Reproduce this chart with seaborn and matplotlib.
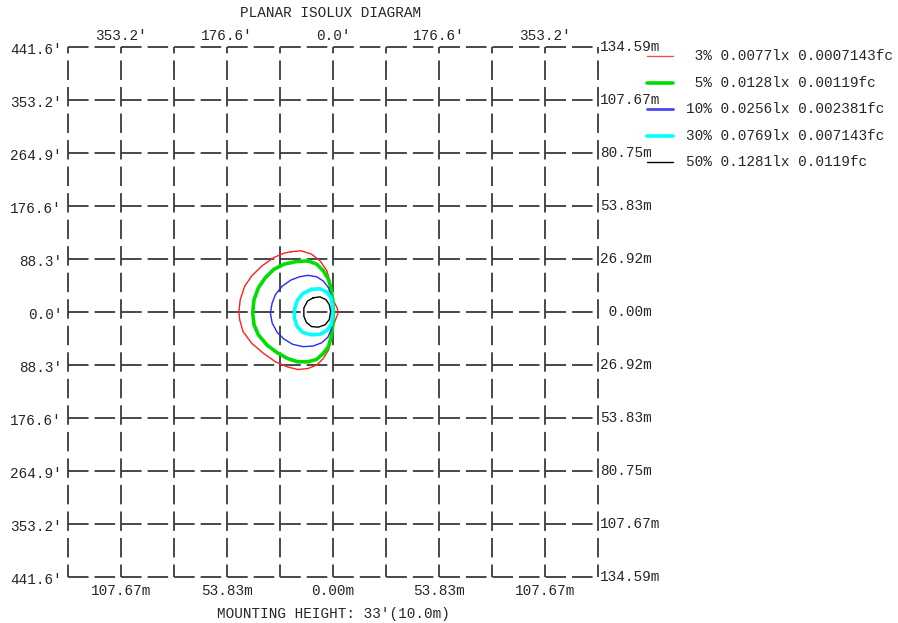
import matplotlib
matplotlib.use("Agg")
import matplotlib.pyplot as plt
from matplotlib.lines import Line2D
import seaborn as sns
import pandas as pd

# ---------------- data (metres, luminaire at origin) ----------------
grid_m = [-134.59, -107.67, -80.75, -53.83, -26.92, 0.0, 26.92, 53.83, 80.75, 107.67, 134.59]

top_tick_pos = [-107.67, -53.83, 0.0, 53.83, 107.67]
top_tick_labels = ["353.2'", "176.6'", "0.0'", "176.6'", "353.2'"]
bottom_tick_labels = ["107.67m", "53.83m", "0.00m", "53.83m", "107.67m"]
left_tick_labels = ["441.6'", "353.2'", "264.9'", "176.6'", "88.3'", "0.0'",
                    "88.3'", "176.6'", "264.9'", "353.2'", "441.6'"]
right_tick_labels = ["134.59m", "107.67m", "80.75m", "53.83m", "26.92m", " 0.00m",
                     "26.92m", "53.83m", "80.75m", "107.67m", "134.59m"]

red_x = [-21.4, -16.2, -10.9, -6.6, -3.1, -1.4, -0.5, 0.3, 2.1, 2.6, 1.6, 0.3, -0.5, -2.3, -4.9,
         -8.3, -12.7, -17.9, -23.1, -29.2, -35.3, -41.3, -45.7, -47.4, -47.8, -47.1, -44.8, -41.3,
         -36.1, -30.0, -24.8]
red_y = [30.6, 31.1, 29.4, 26.0, 20.9, 14.9, 9.7, 5.5, 2.1, -0.5, -3.1, -6.5, -12.5, -19.3, -23.6,
         -27.0, -28.7, -29.2, -27.9, -25.3, -21.0, -15.9, -9.9, -3.9, 0.3, 6.3, 13.2, 18.3,
         23.4, 27.7, 29.9]

green_x = [-12.7, -8.3, -4.9, -2.3, -0.9, -0.2, 0.2, -0.2, -0.9, -2.3, -4.9, -8.3, -12.7, -17.9,
           -23.1, -28.3, -33.5, -37.9, -40.1, -40.8, -40.1, -37.9, -34.4, -30.0, -24.8, -18.8]
green_y = [26.0, 24.3, 20.9, 16.6, 11.5, 6.3, 0.0, -7.3, -12.5, -17.6, -21.0, -24.1, -25.3, -25.3,
           -23.6, -20.7, -16.8, -11.6, -6.5, -0.5, 6.3, 12.3, 17.4, 21.7, 24.3, 25.6]

blue_x = [-12.7, -8.3, -4.9, -2.3, -0.9, -0.2, 0.0, -0.2, -1.0, -2.6, -5.7, -10.1, -15.3, -20.5,
          -24.8, -28.3, -30.9, -31.8, -30.9, -29.2, -25.7, -21.4, -17.0]
blue_y = [18.6, 17.9, 15.7, 12.3, 8.0, 3.8, -0.5, -4.8, -9.1, -12.8, -15.6, -17.3, -17.6, -16.4,
          -13.8, -10.4, -5.6, -0.5, 4.6, 8.9, 13.2, 16.2, 17.9]

cyan_x = [-10.9, -6.6, -3.1, -1.0, -0.2, -0.2, -1.0, -3.1, -6.6, -10.9, -15.3, -18.2, -19.6,
          -19.6, -18.2, -15.3]
cyan_y = [11.5, 11.8, 10.1, 7.2, 2.9, -2.2, -6.5, -9.4, -11.3, -11.6, -10.4, -7.4, -3.1,
          1.2, 5.8, 9.4]

black_x = [-10.1, -6.6, -3.6, -1.9, -1.2, -1.9, -4.0, -7.5, -10.9, -13.5, -14.8, -14.8, -13.0]
black_y = [7.2, 7.7, 6.3, 3.8, 0.3, -3.9, -6.5, -7.7, -7.4, -5.3, -2.2, 2.0, 5.5]

legend_pct = [" 3%", " 5%", "10%", "30%", "50%"]
legend_lx = ["0.0077lx", "0.0128lx", "0.0256lx", "0.0769lx", "0.1281lx"]
legend_fc = ["0.0007143fc", "0.00119fc", "0.002381fc", "0.007143fc", "0.0119fc"]

# ---------------- style ----------------
sns.set_style("white")
plt.rcParams['font.family'] = ['Liberation Mono', 'DejaVu Sans Mono']
plt.rcParams['lines.scale_dashes'] = False
FS = 10.4
TXT = '#262626'
GRID = '#3a3a3a'

W, H = 898, 623
fig = plt.figure(figsize=(W / 100, H / 100), dpi=100)
ax = fig.add_axes([68 / W, 1 - 577 / H, 530 / W, 530 / H])
ax.set_xlim(-134.59, 134.59)
ax.set_ylim(-134.59, 134.59)
ax.axis('off')

hdash = (0, (14.8, 4.3))
vdash = (5.0, (14.0, 5.1))
for g in grid_m:
    ax.axvline(g, color=GRID, lw=1.3, linestyle=vdash, clip_on=False, zorder=1)
    ax.axhline(g, color=GRID, lw=1.3, linestyle=hdash, clip_on=False, zorder=1)

contours = [
    (red_x, red_y, '#ff2020', 1.0),
    (green_x, green_y, '#00dd00', 2.6),
    (blue_x, blue_y, '#2828ff', 1.0),
    (cyan_x, cyan_y, '#00ffff', 2.6),
    (black_x, black_y, '#000000', 1.0),
]
for xs, ys, col, lw in contours:
    df = pd.DataFrame({'x': list(xs) + [xs[0]], 'y': list(ys) + [ys[0]]})
    sns.lineplot(data=df, x='x', y='y', sort=False, estimator=None, color=col,
                 linewidth=lw, ax=ax, zorder=3)

# tick labels
for x, t, b in zip(top_tick_pos, top_tick_labels, bottom_tick_labels):
    ax.annotate(t, xy=(x, 1), xycoords=('data', 'axes fraction'), xytext=(0, 8.0),
                textcoords='offset points', ha='center', va='center', fontsize=FS, color=TXT)
    ax.annotate(b, xy=(x, 0), xycoords=('data', 'axes fraction'), xytext=(0, -10.0),
                textcoords='offset points', ha='center', va='center', fontsize=FS, color=TXT)

for y, l, r in zip(grid_m[::-1], left_tick_labels, right_tick_labels):
    ax.annotate(l, xy=(0, y), xycoords=('axes fraction', 'data'), xytext=(-4.2, -2.0),
                textcoords='offset points', ha='right', va='center', fontsize=FS, color=TXT)
    ax.annotate(r, xy=(1, y), xycoords=('axes fraction', 'data'), xytext=(1.2, 0),
                textcoords='offset points', ha='left', va='center', fontsize=FS, color=TXT)

fig.text(331 / W, 1 - 13 / H, "PLANAR ISOLUX DIAGRAM", ha='center', va='center',
         fontsize=FS, color=TXT)
fig.text(333 / W, 1 - 614 / H, "MOUNTING HEIGHT: 33'(10.0m)", ha='center', va='center',
         fontsize=FS, color=TXT)

# legend
leg_cols = ['#f05050', '#00dd00', '#4848f0', '#00ffff', '#000000']
leg_lw = [1.0, 2.6, 2.0, 2.6, 1.0]
for i, (p, lx, fc) in enumerate(zip(legend_pct, legend_lx, legend_fc)):
    yy = 1 - (56 + i * 26.6) / H
    fig.add_artist(Line2D([647 / W, 673 / W], [yy, yy], color=leg_cols[i], lw=leg_lw[i]))
    fig.text(686 / W, yy, f"{p} {lx} {fc}", ha='left', va='center', fontsize=FS, color=TXT)

fig.savefig("out.png", dpi=100)
